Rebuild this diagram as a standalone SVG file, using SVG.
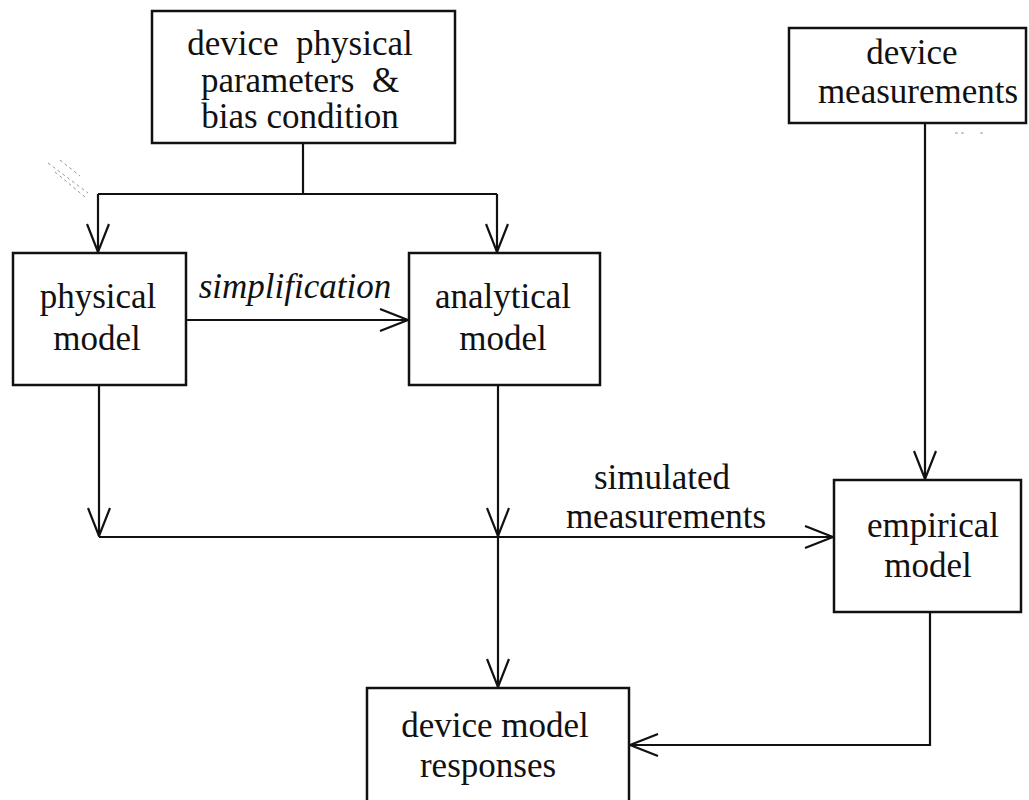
<svg xmlns="http://www.w3.org/2000/svg" width="1029" height="800" viewBox="0 0 1029 800">
<style>
.box{fill:#fff;stroke:#111;stroke-width:2.5}
.t{font-family:"Liberation Serif","Times New Roman",serif;font-size:35px;fill:#111;text-anchor:middle;white-space:pre}
.it{font-style:italic}
.c{fill:none;stroke:#111;stroke-width:2.2}
.a{marker-end:url(#arr)}
.noise{fill:none;stroke:#999;stroke-width:1;stroke-dasharray:3 3}
</style>
<defs>
<marker id="arr" viewBox="0 0 30 24" refX="29" refY="12" markerWidth="30" markerHeight="24" markerUnits="userSpaceOnUse" orient="auto">
<path d="M1,1 L29,12 L1,23" fill="none" stroke="#111" stroke-width="2.2"/>
</marker>
</defs>
<rect width="1029" height="800" fill="#fff"/>
<g id="connectors">
<path class="c" d="M303,143 V194"/>
<path class="c" d="M98,194 H497"/>
<path class="c a" d="M98,194 V252"/>
<path class="c a" d="M497,194 V252"/>
<path class="c a" d="M186,320 H408"/>
<path class="c a" d="M99,385 V536"/>
<path class="c a" d="M498,385 V536"/>
<path class="c a" d="M498,537 V687"/>
<path class="c a" d="M99,537 H833"/>
<path class="c a" d="M925,123 V479"/>
<path class="c a" d="M930,612 V745 H630"/>
<text class="t it" x="295" y="298">simplification</text>
<text class="t" x="662" y="489">simulated</text>
<text class="t" x="666" y="528">measurements</text>
</g>
<g id="noise">
<path class="noise" d="M48,163 L88,193 M55,172 L85,197 M60,160 L80,176"/>
<path class="noise" d="M955,133 L965,133 M980,133 L983,133"/>
</g>
<g id="node-params">
<rect class="box" x="152" y="11" width="303" height="132"/>
<text class="t" x="300" y="55" xml:space="preserve">device  physical</text>
<text class="t" x="300" y="92" xml:space="preserve">parameters  &amp;</text>
<text class="t" x="300" y="128">bias condition</text>
</g>
<g id="node-measurements">
<rect class="box" x="789" y="28" width="237" height="95"/>
<text class="t" x="912" y="64">device</text>
<text class="t" x="918" y="103">measurements</text>
</g>
<g id="node-physical">
<rect class="box" x="13" y="253" width="173" height="132"/>
<text class="t" x="98" y="308">physical</text>
<text class="t" x="97" y="350">model</text>
</g>
<g id="node-analytical">
<rect class="box" x="409" y="253" width="191" height="132"/>
<text class="t" x="503" y="308">analytical</text>
<text class="t" x="503" y="350">model</text>
</g>
<g id="node-empirical">
<rect class="box" x="834" y="480" width="187" height="132"/>
<text class="t" x="933" y="537">empirical</text>
<text class="t" x="928" y="577">model</text>
</g>
<g id="node-responses">
<rect class="box" x="367" y="688" width="262" height="130"/>
<text class="t" x="495" y="737">device model</text>
<text class="t" x="488" y="777">responses</text>
</g>
</svg>
